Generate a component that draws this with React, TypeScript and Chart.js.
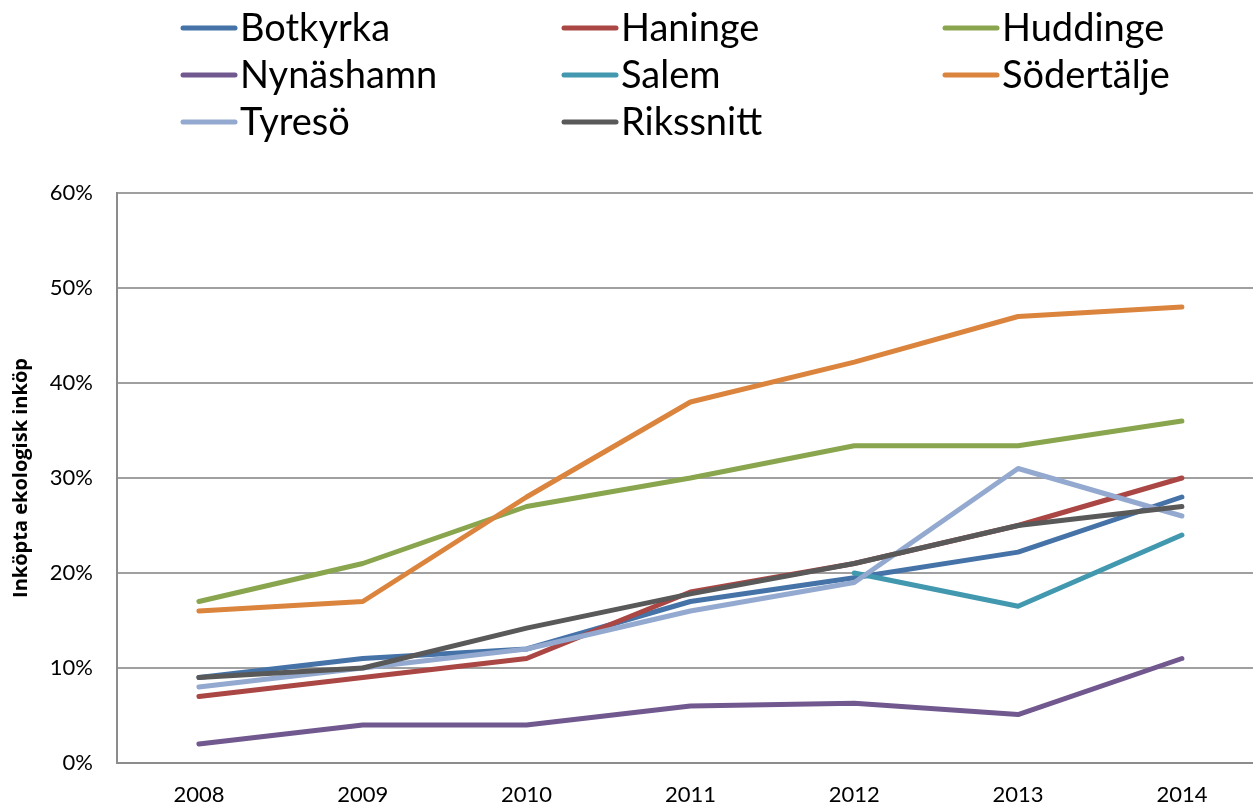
import React, { useEffect, useRef } from "react";
import { Chart, registerables } from "chart.js";

Chart.register(...registerables);

const years = [2008, 2009, 2010, 2011, 2012, 2013, 2014];
const yTicks = [0, 10, 20, 30, 40, 50, 60];

const botkyrka = [9.0, 11.0, 12.0, 17.0, 19.5, 22.2, 28.0];
const haninge = [7.0, 9.0, 11.0, 18.0, 21.0, 25.0, 30.0];
const huddinge = [17.0, 21.0, 27.0, 30.0, 33.4, 33.4, 36.0];
const nynashamn = [2.0, 4.0, 4.0, 6.0, 6.3, 5.1, 11.0];
const salem = [null, null, null, null, 20.0, 16.5, 24.0];
const sodertalje = [16.0, 17.0, 28.0, 38.0, 42.2, 47.0, 48.0];
const tyreso = [8.0, 10.0, 12.0, 16.0, 19.0, 31.0, 26.0];
const rikssnitt = [9.0, 10.0, 14.2, 17.8, 21.0, 25.0, 27.0];

const seriesNames = ["Botkyrka", "Haninge", "Huddinge", "Nynäshamn", "Salem", "Södertälje", "Tyresö", "Rikssnitt"];
const seriesValues = [botkyrka, haninge, huddinge, nynashamn, salem, sodertalje, tyreso, rikssnitt];
const seriesColors = ["#4572A7", "#AA4643", "#89A54E", "#71588F", "#4198AF", "#DB843D", "#93A9CF", "#595959"];

const FONT = "Lato, 'Open Sans', sans-serif";

const legendPlugin = {
  id: "columnLegend",
  afterDraw(chart: any) {
    const ctx = chart.ctx;
    const colX = [181, 562, 943];
    const rowY = [28, 75, 122];
    ctx.save();
    ctx.font = `38px ${FONT}`;
    ctx.textBaseline = "middle";
    ctx.textAlign = "left";
    seriesNames.forEach((name, i) => {
      const x = colX[i % 3];
      const y = rowY[Math.floor(i / 3)];
      ctx.strokeStyle = seriesColors[i];
      ctx.lineWidth = 5;
      ctx.lineCap = "round";
      ctx.beginPath();
      ctx.moveTo(x + 2, y);
      ctx.lineTo(x + 54, y);
      ctx.stroke();
      ctx.fillStyle = "#000";
      ctx.fillText(name, x + 59, y + 1);
    });
    ctx.restore();
  },
};

export default function App() {
  const ref = useRef<HTMLCanvasElement | null>(null);
  useEffect(() => {
    document.body.style.margin = "0";
    if (!ref.current) return;
    const chart = new Chart(ref.current, {
      type: "line",
      data: {
        datasets: seriesNames.map((name, i) => ({
          label: name,
          data: years.map((yr, j) => ({ x: yr, y: seriesValues[i][j] })),
          borderColor: seriesColors[i],
          backgroundColor: seriesColors[i],
          borderWidth: 5,
          borderCapStyle: "round",
          borderJoinStyle: "round",
          pointRadius: 0,
          tension: 0,
          spanGaps: false,
          order: seriesNames.length - i,
        })),
      },
      options: {
        animation: false,
        responsive: false,
        layout: { padding: { top: 193, left: 0, right: 0, bottom: 0 } },
        plugins: { legend: { display: false }, tooltip: { enabled: false } },
        scales: {
          x: {
            type: "linear",
            min: 2007.5,
            max: 2014.434,
            afterFit: (s: any) => { s.height = 44; },
            grid: { display: false, drawTicks: false },
            border: { display: true, color: "#8c8c8c", width: 2 },
            ticks: {
              stepSize: 1,
              includeBounds: false,
              autoSkip: false,
              maxRotation: 0,
              padding: 19,
              color: "#000",
              font: { family: FONT, size: 22 },
              callback: (v: any) => (years.includes(v) ? String(v) : ""),
            },
          },
          y: {
            min: 0,
            max: 60,
            afterFit: (s: any) => { s.width = 117; },
            afterBuildTicks: (s: any) => { s.ticks = yTicks.map((v) => ({ value: v })); },
            grid: { color: "#a0a0a0", lineWidth: 2, drawTicks: false },
            border: { display: true, color: "#8c8c8c", width: 2 },
            ticks: {
              padding: 24,
              color: "#000",
              font: { family: FONT, size: 22 },
              callback: (v: any) => `${v}%`,
            },
            title: {
              display: true,
              text: "Inköpta ekologisk inköp",
              color: "#000",
              padding: { top: 9, bottom: 4 },
              font: { family: "'Open Sans', sans-serif", size: 20, weight: "bold" },
            },
          },
        },
      },
      plugins: [legendPlugin],
    } as any);
    return () => chart.destroy();
  }, []);
  return (
    <div style={{ width: 1253, height: 807, overflow: "hidden" }}>
      <canvas ref={ref} width={1253} height={807} style={{ display: "block" }} />
    </div>
  );
}
